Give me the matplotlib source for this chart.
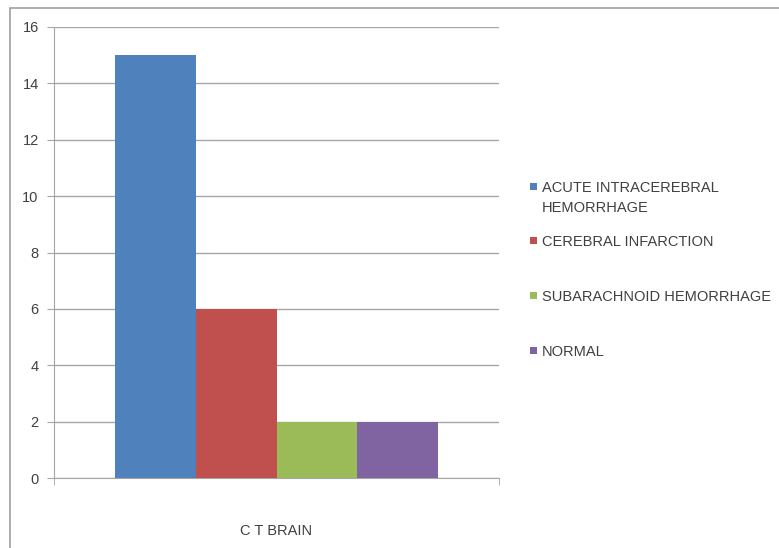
import matplotlib.pyplot as plt
from matplotlib.patches import Rectangle

# data
category = "C T BRAIN"
labels = ["ACUTE INTRACEREBRAL\nHEMORRHAGE", "CEREBRAL INFARCTION",
          "SUBARACHNOID HEMORRHAGE", "NORMAL"]
values = [15, 6, 2, 2]
colors = ["#4F81BD", "#C0504D", "#9BBB59", "#8064A2"]
yticks = [0, 2, 4, 6, 8, 10, 12, 14, 16]

plt.rcParams['font.family'] = ['Liberation Sans', 'DejaVu Sans']
text_color = "#404040"
grid_color = "#A6A6A6"

fig = plt.figure(figsize=(7.79, 5.48), dpi=100)
ax = fig.add_axes([54 / 779, 1 - 478 / 548, 445 / 779, 451 / 548])

# outer chart border
fig.patches.append(Rectangle((10 / 779, -0.02), 1.0, 1 - 8 / 548 + 0.02,
                             transform=fig.transFigure, fill=False,
                             edgecolor="#A0A0A0", linewidth=1.2))

width = 0.182
n = len(values)
for i, (v, c) in enumerate(zip(values, colors)):
    ax.bar((i - (n - 1) / 2) * width, v, width=width, color=c, zorder=3)

ax.set_xlim(-0.5, 0.5)
ax.set_ylim(0, 16)
ax.set_yticks(yticks)
ax.yaxis.grid(True, color=grid_color, linewidth=1, zorder=0)
ax.tick_params(axis='y', direction='out', length=5, color=grid_color,
               labelsize=10.5, labelcolor=text_color, pad=6)
ax.set_xticks([0])
ax.set_xticklabels([category])
ax.set_xticks([-0.5, 0.5], minor=True)
ax.tick_params(axis='x', which='major', length=0, labelsize=10.5,
               labelcolor=text_color, pad=33)
ax.tick_params(axis='x', which='minor', direction='out', length=5,
               color=grid_color)
for s in ['top', 'right']:
    ax.spines[s].set_visible(False)
for s in ['left', 'bottom']:
    ax.spines[s].set_color(grid_color)

# legend, drawn Excel-style with the marker beside the first line
legend_y = [187, 241, 296, 351]
for lab, c, y in zip(labels, colors, legend_y):
    fig.patches.append(Rectangle((530 / 779, 1 - (y + 3) / 548), 7 / 779, 7 / 548,
                                 transform=fig.transFigure, facecolor=c,
                                 edgecolor='none'))
    fig.text(542 / 779, 1 - (y - 6) / 548, lab, fontsize=10.5, color=text_color,
             va='top', ha='left', linespacing=1.5)

fig.savefig("out.png", dpi=100)
